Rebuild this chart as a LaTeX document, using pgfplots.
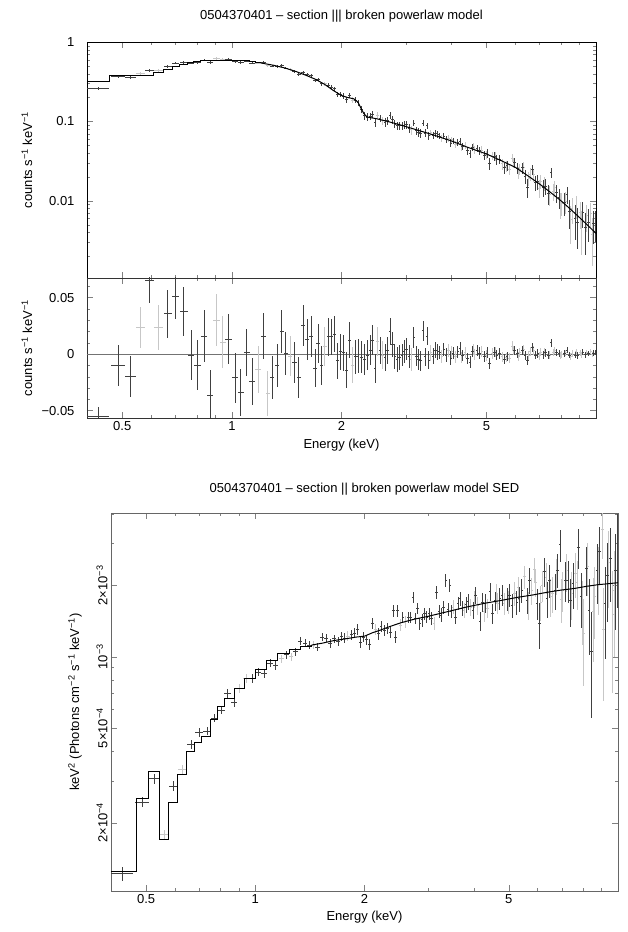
\documentclass[border=0pt]{standalone}
\usepackage{fontspec}
\setmainfont{Liberation Sans}
\usepackage{pgfplots}
\usepackage{pgfplotstable}
\pgfplotsset{compat=1.18}

\pgfplotstableread{
E hw cnt cerr res rerr sed serr
0.43 0.03 0.260 0.008 -0.055 0.008 1.22e-4 0.08e-4
0.488 0.022 0.368 0.018 -0.010 0.018 2.44e-4 0.12e-4
0.527 0.018 0.358 0.018 -0.020 0.018 3.07e-4 0.15e-4
0.594 0.017 0.443 0.020 0.065 0.020 2.85e-4 0.13e-4
0.666 0.017 0.490 0.021 0.0356 0.021 4.27e-4 0.18e-4
0.70 0.016 0.546 0.020 0.051 0.020 4.80e-4 0.20e-4
0.738 0.019 0.558 0.022 0.0376 0.022 4.86e-4 0.20e-4
0.773 0.016 0.544 0.022 -0.001 0.022 5.52e-4 0.22e-4
0.806 0.017 0.555 0.022 -0.010 0.022 5.95e-4 0.24e-4
0.839 0.017 0.594 0.023 0.0156 0.023 7.00e-4 0.28e-4
0.873 0.017 0.551 0.022 -0.0365 0.022 6.40e-4 0.26e-4
0.98 0.02 0.604 0.022 0.013 0.022 8.10e-4 0.32e-4
1.02 0.02 0.567 0.022 -0.021 0.022 8.60e-4 0.34e-4
1.058 0.019 0.549 0.021 -0.034 0.021 8.50e-4 0.34e-4
1.099 0.02 0.579 0.021 0.0015 0.021 9.40e-4 0.37e-4
1.136 0.019 0.544 0.021 -0.0245 0.021 9.20e-4 0.37e-4
1.22 0.018 0.561 0.020 0.016 0.020 1.02e-3 0.40e-4
1.29 0.018 0.499 0.019 -0.0206 0.019 1.05e-3 0.42e-4
1.33 0.019 0.496 0.019 -0.010 0.019 1.16e-3 0.45e-4
1.37 0.018 0.510 0.019 0.0197 0.019 1.14e-3 0.45e-4
1.405 0.018 0.471 0.019 0.0006 0.019 1.12e-3 0.45e-4
1.485 0.02 0.424 0.018 -0.0076 0.018 1.10e-3 0.45e-4
1.527 0.021 0.392 0.018 -0.0206 0.018 1.21e-3 0.50e-4
1.57 0.021 0.418 0.018 0.0253 0.018 1.20e-3 0.50e-4
1.61 0.02 0.389 0.018 0.013 0.018 1.14e-3 0.50e-4
1.65 0.02 0.375 0.018 0.0156 0.018 1.19e-3 0.50e-4
1.69 0.02 0.329 0.017 -0.0126 0.017 1.16e-3 0.50e-4
1.725 0.018 0.336 0.017 0.0094 0.017 1.22e-3 0.50e-4
1.76 0.018 0.300 0.017 -0.0103 0.017 1.20e-3 0.06e-3
1.84 0.02 0.288 0.017 0.0153 0.017 1.24e-3 0.06e-3
1.875 0.018 0.272 0.016 0.0153 0.016 1.26e-3 0.06e-3
1.91 0.02 0.259 0.016 0.0176 0.016 1.30e-3 0.07e-3
1.95 0.02 0.222 0.016 -0.0059 0.016 1.15e-3 0.06e-3
1.99 0.02 0.217 0.016 0.0021 0.016 1.21e-3 0.06e-3
2.025 0.018 0.209 0.016 0.0012 0.016 1.18e-3 0.06e-3
2.06 0.02 0.189 0.016 -0.0141 0.016 1.13e-3 0.06e-3
2.10 0.02 0.211 0.016 0.0123 0.016 1.38e-3 0.07e-3
2.18 0.02 0.186 0.015 -0.0024 0.015 1.25e-3 0.07e-3
2.22 0.02 0.173 0.015 -0.0018 0.015 1.34e-3 0.07e-3
2.265 0.022 0.142 0.014 -0.0029 0.014 1.29e-3 0.07e-3
2.31 0.022 0.119 0.014 -0.0047 0.014 1.32e-3 0.07e-3
2.355 0.022 0.113 0.013 -0.0009 0.013 1.27e-3 0.07e-3
2.40 0.02 0.116 0.013 0.0035 0.013 1.56e-3 0.09e-3
2.435 0.018 0.123 0.013 0.0123 0.013 1.21e-3 0.07e-3
2.47 0.02 0.097 0.013 -0.0126 0.013 1.56e-3 0.09e-3
2.55 0.02 0.110 0.012 0.0035 0.012 1.47e-3 0.08e-3
2.635 0.022 0.098 0.012 -0.0032 0.012 1.47e-3 0.08e-3
2.68 0.022 0.103 0.012 0.0035 0.012 1.47e-3 0.08e-3
2.72 0.02 0.118 0.012 0.0203 0.012 1.78e-3 0.10e-3
2.76 0.02 0.105 0.011 0.0088 0.011 1.45e-3 0.08e-3
2.80 0.02 0.0927 0.011 -0.0018 0.011 1.60e-3 0.09e-3
2.84 0.02 0.0883 0.011 -0.0047 0.011 1.38e-3 0.08e-3
2.885 0.022 0.0881 0.011 -0.0029 0.011 1.43e-3 0.09e-3
2.93 0.022 0.0886 0.010 -0.0009 0.010 1.52e-3 0.09e-3
2.97 0.02 0.0899 0.010 0.0021 0.010 1.47e-3 0.09e-3
3.015 0.023 0.0906 0.010 0.0044 0.010 1.52e-3 0.09e-3
3.065 0.025 0.0821 0.010 -0.0024 0.010 1.45e-3 0.09e-3
3.16 0.025 0.0957 0.009 0.0147 0.009 1.87e-3 0.12e-3
3.21 0.025 0.0769 0.009 -0.0018 0.009 1.55e-3 0.10e-3
3.255 0.022 0.0728 0.009 -0.0047 0.009 1.50e-3 0.10e-3
3.30 0.025 0.0704 0.009 -0.0059 0.009 1.62e-3 0.10e-3
3.35 0.025 0.0956 0.009 0.0206 0.009 2.10e-3 0.13e-3
3.40 0.02 0.0713 0.008 -0.0024 0.008 1.58e-3 0.10e-3
3.435 0.018 0.0887 0.008 0.0159 0.008 2.00e-3 0.13e-3
3.47 0.02 0.0667 0.008 -0.0053 0.008 1.55e-3 0.10e-3
3.565 0.025 0.0676 0.007 -0.0018 0.007 1.47e-3 0.10e-3
3.62 0.03 0.0715 0.007 0.0035 0.007 1.68e-3 0.11e-3
3.675 0.025 0.0686 0.007 0.0021 0.007 1.76e-3 0.12e-3
3.72 0.025 0.0653 0.006 0.0015 0.006 1.60e-3 0.12e-3
3.82 0.025 0.0653 0.006 0.0040 0.006 1.66e-3 0.13e-3
3.87 0.025 0.0591 0.006 -0.0010 0.006 1.71e-3 0.13e-3
3.99 0.03 0.0537 0.006 -0.0035 0.006 1.57e-3 0.13e-3
4.05 0.03 0.0568 0.0055 0.0010 0.0055 1.82e-3 0.15e-3
4.17 0.03 0.0550 0.0055 0.0020 0.0055 1.41e-3 0.13e-3
4.23 0.03 0.0566 0.0055 0.0050 0.0055 1.70e-3 0.15e-3
4.30 0.035 0.0491 0.005 -0.0010 0.005 1.68e-3 0.15e-3
4.44 0.035 0.0433 0.005 -0.0040 0.005 1.88e-3 0.17e-3
4.51 0.035 0.0392 0.005 -0.0070 0.005 1.52e-3 0.15e-3
4.58 0.035 0.0476 0.005 0.0025 0.005 1.72e-3 0.16e-3
4.72 0.035 0.0460 0.005 0.0030 0.005 1.76e-3 0.18e-3
4.79 0.035 0.0429 0.005 0.0010 0.005 1.82e-3 0.18e-3
4.94 0.04 0.0378 0.0048 -0.0020 0.0048 1.75e-3 0.19e-3
5.02 0.04 0.0397 0.0048 0.0010 0.0048 1.82e-3 0.20e-3
5.10 0.04 0.0295 0.0048 -0.0080 0.0048 1.65e-3 0.19e-3
5.26 0.04 0.0367 0.0045 0.0015 0.0045 1.70e-3 0.20e-3
5.34 0.04 0.0331 0.0045 -0.0010 0.0045 1.76e-3 0.21e-3
5.43 0.045 0.0334 0.0045 0.0005 0.0045 1.91e-3 0.22e-3
5.61 0.045 0.0262 0.0042 -0.0045 0.0042 1.73e-3 0.22e-3
5.70 0.045 0.0277 0.0042 -0.0020 0.0042 2.10e-3 0.26e-3
5.98 0.05 0.0302 0.004 0.0035 0.004 1.68e-3 0.25e-3
6.08 0.05 0.0260 0.004 0.0005 0.004 1.38e-3 0.30e-3
6.28 0.05 0.0261 0.004 0.0030 0.004 2.28e-3 0.32e-3
6.38 0.05 0.0205 0.004 -0.0015 0.004 1.76e-3 0.30e-3
6.48 0.05 0.0149 0.004 -0.0060 0.004 2.10e-3 0.33e-3
6.70 0.055 0.0248 0.0038 0.0060 0.0038 1.91e-3 0.33e-3
6.81 0.055 0.0170 0.0036 -0.0008 0.0036 2.32e-3 0.38e-3
6.92 0.055 0.0174 0.0036 0.0005 0.0036 2.96e-3 0.45e-3
7.16 0.06 0.0146 0.0035 -0.0005 0.0035 2.10e-3 0.40e-3
7.28 0.06 0.0154 0.0034 0.0012 0.0034 2.10e-3 0.42e-3
7.40 0.06 0.0124 0.0034 -0.0010 0.0034 1.73e-3 0.40e-3
7.52 0.06 0.0227 0.0034 0.0100 0.0034 2.04e-3 0.45e-3
7.78 0.065 0.0127 0.0032 0.0015 0.0032 2.90e-3 0.55e-3
7.91 0.065 0.0110 0.0032 0.0005 0.0032 1.79e-3 0.47e-3
8.18 0.07 0.0095 0.0030 0.0003 0.0030 2.36e-3 0.55e-3
8.32 0.07 0.0121 0.0030 0.0035 0.0030 1.57e-3 0.55e-3
8.46 0.07 0.0073 0.0029 -0.0008 0.0029 1.05e-3 0.50e-3
8.75 0.075 0.0060 0.0028 -0.0010 0.0028 2.32e-3 0.65e-3
8.90 0.075 0.0053 0.0028 -0.0012 0.0028 2.77e-3 0.75e-3
9.20 0.075 0.0071 0.0026 0.0015 0.0026 1.68e-3 0.70e-3
9.36 0.08 0.0046 0.0025 -0.0006 0.0025 2.20e-3 0.80e-3
9.52 0.08 0.0054 0.0024 0.0005 0.0024 2.60e-3 0.90e-3
9.84 0.08 0.0052 0.0023 0.0010 0.0023 2.30e-3 1.00e-3
9.96 0.04 0.0052 0.0022 0.0012 0.0022 2.80e-3 1.20e-3
}\tblk

\pgfplotstableread{
E hw cnt cerr res rerr sed serr
0.561 0.016 0.401 0.018 0.0235 0.018 1.78e-4 0.09e-4
0.63 0.018 0.436 0.020 0.0235 0.020 3.36e-4 0.15e-4
0.907 0.018 0.622 0.023 0.030 0.023 7.35e-4 0.30e-4
0.943 0.018 0.604 0.023 0.0106 0.023 8.10e-4 0.32e-4
1.18 0.021 0.544 0.021 -0.0135 0.021 9.80e-4 0.40e-4
1.254 0.017 0.500 0.020 -0.035 0.020 1.00e-3 0.40e-4
1.445 0.02 0.450 0.018 -0.0018 0.018 1.12e-3 0.45e-4
1.80 0.02 0.299 0.017 0.0065 0.017 1.22e-3 0.06e-3
2.14 0.02 0.186 0.016 -0.0097 0.016 1.30e-3 0.07e-3
2.51 0.02 0.119 0.013 0.0109 0.013 1.36e-3 0.08e-3
2.59 0.02 0.103 0.012 -0.0009 0.012 1.40e-3 0.08e-3
3.11 0.022 0.0783 0.010 -0.0047 0.010 1.38e-3 0.09e-3
3.515 0.025 0.0720 0.007 0.0012 0.007 1.62e-3 0.11e-3
3.77 0.025 0.0606 0.006 -0.0020 0.006 1.57e-3 0.12e-3
3.93 0.03 0.0616 0.006 0.0030 0.006 1.62e-3 0.13e-3
4.02 0.02 0.0585 0.0055 0.0020 0.0055 1.75e-3 0.15e-3
4.11 0.03 0.0519 0.0055 -0.0025 0.0055 1.64e-3 0.14e-3
4.27 0.02 0.0477 0.005 -0.0030 0.005 1.55e-3 0.15e-3
4.37 0.035 0.0501 0.005 0.0015 0.005 1.60e-3 0.15e-3
4.62 0.025 0.0485 0.005 0.0040 0.005 1.85e-3 0.17e-3
4.65 0.035 0.0435 0.005 -0.0005 0.005 1.68e-3 0.17e-3
4.86 0.035 0.0434 0.005 0.0025 0.005 1.68e-3 0.18e-3
4.99 0.03 0.0381 0.0048 -0.0010 0.0048 1.70e-3 0.19e-3
5.18 0.04 0.0368 0.0045 0.0005 0.0045 1.85e-3 0.21e-3
5.30 0.03 0.0366 0.0045 0.0020 0.0045 1.95e-3 0.22e-3
5.52 0.045 0.0293 0.0045 -0.0025 0.0045 2.17e-3 0.25e-3
5.66 0.03 0.0272 0.0042 -0.0030 0.0042 1.65e-3 0.22e-3
5.79 0.045 0.0252 0.0042 -0.0035 0.0042 1.90e-3 0.25e-3
5.88 0.045 0.0347 0.0042 0.0070 0.0042 2.32e-3 0.28e-3
5.93 0.03 0.0302 0.0042 0.0030 0.0042 2.05e-3 0.26e-3
6.13 0.04 0.0229 0.004 -0.0020 0.004 1.70e-3 0.28e-3
6.18 0.05 0.0252 0.004 0.0010 0.004 2.00e-3 0.30e-3
6.33 0.04 0.0265 0.004 0.0040 0.004 2.15e-3 0.32e-3
6.53 0.04 0.0194 0.004 -0.0010 0.004 1.80e-3 0.33e-3
6.59 0.055 0.0218 0.0038 0.0020 0.0038 1.85e-3 0.32e-3
6.75 0.045 0.0213 0.0038 0.0030 0.0038 2.20e-3 0.38e-3
6.98 0.045 0.0145 0.0036 -0.0020 0.0036 1.75e-3 0.37e-3
7.04 0.06 0.0175 0.0035 0.0015 0.0035 1.91e-3 0.37e-3
7.22 0.05 0.0167 0.0035 0.0020 0.0035 2.30e-3 0.42e-3
7.46 0.05 0.0121 0.0034 -0.0010 0.0034 1.85e-3 0.42e-3
7.65 0.065 0.0131 0.0032 0.0012 0.0032 2.25e-3 0.48e-3
7.71 0.05 0.0146 0.0033 0.0030 0.0033 2.05e-3 0.48e-3
7.97 0.05 0.0092 0.0032 -0.0010 0.0032 1.60e-3 0.48e-3
8.04 0.065 0.0094 0.0030 -0.0005 0.0030 1.25e-3 0.50e-3
8.25 0.06 0.0099 0.0030 0.0010 0.0030 2.40e-3 0.60e-3
8.53 0.06 0.0058 0.0029 -0.0020 0.0029 1.55e-3 0.60e-3
8.60 0.07 0.0080 0.0029 0.0005 0.0029 1.79e-3 0.60e-3
8.82 0.06 0.0088 0.0028 0.0020 0.0028 2.20e-3 0.70e-3
9.05 0.075 0.0071 0.0027 0.0010 0.0027 3.42e-3 0.85e-3
9.12 0.06 0.0048 0.0027 -0.0010 0.0027 1.30e-3 0.65e-3
9.44 0.07 0.0065 0.0025 0.0015 0.0025 2.50e-3 0.90e-3
9.68 0.08 0.0070 0.0023 0.0025 0.0023 1.50e-3 0.80e-3
9.76 0.07 0.0038 0.0023 -0.0005 0.0023 1.90e-3 0.90e-3
}\tblg

\begin{document}
\begin{tikzpicture}
\path[use as bounding box] (0,0) rectangle (628pt,932pt);

% ---------------- top panel ----------------
\begin{axis}[scale only axis, xmode=log, ymode=log, xmin=0.4, xmax=10,
  font=\fontsize{13}{15.6}\selectfont,
  scaled x ticks=false, scaled y ticks=false,
  tick align=inside, major tick length=6pt, minor tick length=3pt,
  xtick={0.5,1,2,5}, xticklabels={{},{},{},{}},
  minor xtick={0.4,0.6,0.7,0.8,0.9,3,4,6,7,8,9},
  at={(87pt,654pt)}, anchor=south west, width=509pt, height=236pt,
  ymin=0.00107, ymax=1,
  ytick={0.01,0.1,1}, yticklabels={0.01,0.1,1},
  minor ytick={0.002,0.003,0.004,0.005,0.006,0.007,0.008,0.009,0.02,0.03,0.04,0.05,0.06,0.07,0.08,0.09,0.2,0.3,0.4,0.5,0.6,0.7,0.8,0.9},
  yticklabel style={xshift=-9pt},
  ylabel={counts s\textsuperscript{−1} keV\textsuperscript{−1}},
  ylabel style={at={(axis description cs:-0.118,0.5)}, anchor=center},
  title={0504370401 – section ||| broken powerlaw model},
  title style={at={(axis description cs:0.5,1)}, anchor=center, yshift=20pt},
]
\addplot[only marks, mark=*, mark options={draw opacity=0, fill opacity=0}, error bars/.cd, x dir=both, x explicit, y dir=both, y explicit, error mark=none, error bar style={line width=0.9pt, black!22}] table[x=E, y=cnt, x error=hw, y error=cerr]{\tblg};
\addplot[only marks, mark=*, mark options={draw opacity=0, fill opacity=0}, error bars/.cd, x dir=both, x explicit, y dir=both, y explicit, error mark=none, error bar style={line width=0.7pt, black!75}] table[x=E, y=cnt, x error=hw, y error=cerr]{\tblk};
\addplot[black, line width=1pt, const plot] coordinates {
(0.40,0.315) (0.46,0.378) (0.611,0.412) (0.648,0.454) (0.686,0.495) (0.72,0.52)
(0.754,0.545) (0.786,0.565) (0.82,0.578) (0.855,0.587) (0.89,0.592) (0.925,0.593)
(0.96,0.591) (1.00,0.588) (1.04,0.583) (1.08,0.577) (1.12,0.568) (1.16,0.557) (1.20,0.545)};
\addplot[black, line width=1pt] coordinates {
(1.20,0.545) (1.30,0.51) (1.40,0.47) (1.50,0.425) (1.60,0.38) (1.70,0.338) (1.80,0.292)
(1.90,0.245) (2.00,0.212) (2.08,0.200) (2.16,0.193) (2.22,0.175) (2.26,0.148) (2.30,0.127)
(2.35,0.114) (2.42,0.111) (2.50,0.108) (2.70,0.099) (2.90,0.0905) (3.20,0.079) (3.60,0.067)
(4.00,0.057) (4.40,0.048) (5.00,0.039) (5.50,0.032) (6.00,0.0265) (6.50,0.0207) (7.00,0.0163)
(7.50,0.0128) (8.00,0.0101) (8.50,0.0079) (9.00,0.0062) (9.50,0.0049) (10.0,0.0039)};
\end{axis}

% ---------------- residual panel ----------------
\begin{axis}[scale only axis, xmode=log, xmin=0.4, xmax=10,
  font=\fontsize{13}{15.6}\selectfont,
  scaled x ticks=false, scaled y ticks=false,
  tick align=inside, major tick length=6pt, minor tick length=3pt,
  xtick={0.5,1,2,5}, xticklabels={0.5,1,2,5},
  minor xtick={0.4,0.6,0.7,0.8,0.9,3,4,6,7,8,9},
  at={(87pt,514pt)}, anchor=south west, width=509pt, height=140pt,
  ymin=-0.0566, ymax=0.0673,
  ytick={-0.05,0,0.05}, yticklabels={−0.05,0,0.05},
  minor ytick={-0.04,-0.03,-0.02,-0.01,0.01,0.02,0.03,0.04,0.06},
  yticklabel style={xshift=-9pt},
  axis line style={black!80},
  ylabel={counts s\textsuperscript{−1} keV\textsuperscript{−1}},
  ylabel style={at={(axis description cs:-0.118,0.5)}, anchor=center},
  xlabel={Energy (keV)},
  xlabel style={at={(axis description cs:0.5,-0.193)}, anchor=center},
]
\addplot[black!55, line width=0.8pt] coordinates {(0.4,0) (10,0)};
\addplot[only marks, mark=*, mark options={draw opacity=0, fill opacity=0}, error bars/.cd, x dir=both, x explicit, y dir=both, y explicit, error mark=none, error bar style={line width=0.9pt, black!22}] table[x=E, y=res, x error=hw, y error=rerr]{\tblg};
\addplot[only marks, mark=*, mark options={draw opacity=0, fill opacity=0}, error bars/.cd, x dir=both, x explicit, y dir=both, y explicit, error mark=none, error bar style={line width=0.7pt, black!75}] table[x=E, y=res, x error=hw, y error=rerr]{\tblk};
\end{axis}

% ---------------- SED panel ----------------
\begin{axis}[scale only axis, xmode=log, ymode=log, xmin=0.4, xmax=10,
  font=\fontsize{13}{15.6}\selectfont,
  scaled x ticks=false, scaled y ticks=false,
  tick align=inside, major tick length=6pt, minor tick length=3pt,
  xtick={0.5,1,2,5}, xticklabels={0.5,1,2,5},
  minor xtick={0.4,0.6,0.7,0.8,0.9,3,4,6,7,8,9},
  at={(111pt,41pt)}, anchor=south west, width=507pt, height=378pt,
  ymin=1.03e-4, ymax=4.03e-3,
  axis line style={black!60},
  ytick={2e-4,5e-4,1e-3,2e-3},
  yticklabels={2×10\textsuperscript{−4},5×10\textsuperscript{−4},10\textsuperscript{−3},2×10\textsuperscript{−3}},
  minor ytick={3e-4,4e-4,6e-4,7e-4,8e-4,9e-4,3e-3,4e-3},
  yticklabel style={rotate=90, anchor=south},
  ylabel={keV\textsuperscript{2} (Photons cm\textsuperscript{−2} s\textsuperscript{−1} keV\textsuperscript{−1})},
  ylabel style={at={(axis description cs:-0.071,0.5)}, anchor=center},
  xlabel={Energy (keV)},
  xlabel style={at={(axis description cs:0.5,-0.069)}, anchor=center},
  title={0504370401 – section || broken powerlaw model SED},
  title style={at={(axis description cs:0.5,1)}, anchor=center, yshift=18pt},
]
\addplot[only marks, mark=*, mark options={draw opacity=0, fill opacity=0}, error bars/.cd, x dir=both, x explicit, y dir=both, y explicit, error mark=none, error bar style={line width=0.9pt, black!22}] table[x=E, y=sed, x error=hw, y error=serr]{\tblg};
\addplot[only marks, mark=*, mark options={draw opacity=0, fill opacity=0}, error bars/.cd, x dir=both, x explicit, y dir=both, y explicit, error mark=none, error bar style={line width=0.7pt, black!75}] table[x=E, y=sed, x error=hw, y error=serr]{\tblk};
\addplot[black, line width=1pt, const plot] coordinates {
(0.40,1.24e-4) (0.47,2.52e-4) (0.506,3.27e-4) (0.545,1.69e-4) (0.577,2.44e-4) (0.611,3.20e-4)
(0.648,3.97e-4) (0.681,4.33e-4) (0.712,4.60e-4) (0.754,5.44e-4) (0.786,6.15e-4) (0.82,6.67e-4)
(0.875,7.35e-4) (0.935,8.10e-4) (1.00,8.80e-4) (1.075,9.60e-4) (1.15,1.03e-3) (1.24,1.07e-3)
(1.33,1.10e-3) (1.43,1.12e-3)};
\addplot[black, line width=1pt] coordinates {
(1.43,1.12e-3) (1.53,1.14e-3) (1.65,1.17e-3) (1.78,1.19e-3) (1.90,1.21e-3) (2.00,1.22e-3)
(2.10,1.26e-3) (2.20,1.29e-3) (2.35,1.34e-3) (2.52,1.39e-3) (2.75,1.44e-3) (3.00,1.48e-3)
(3.40,1.55e-3) (3.83,1.62e-3) (4.30,1.68e-3) (4.80,1.73e-3) (5.30,1.78e-3) (5.82,1.82e-3)
(6.40,1.87e-3) (7.00,1.91e-3) (7.60,1.94e-3) (8.20,1.98e-3) (8.80,2.01e-3) (9.40,2.03e-3) (10.0,2.05e-3)};
\end{axis}
\end{tikzpicture}
\end{document}
